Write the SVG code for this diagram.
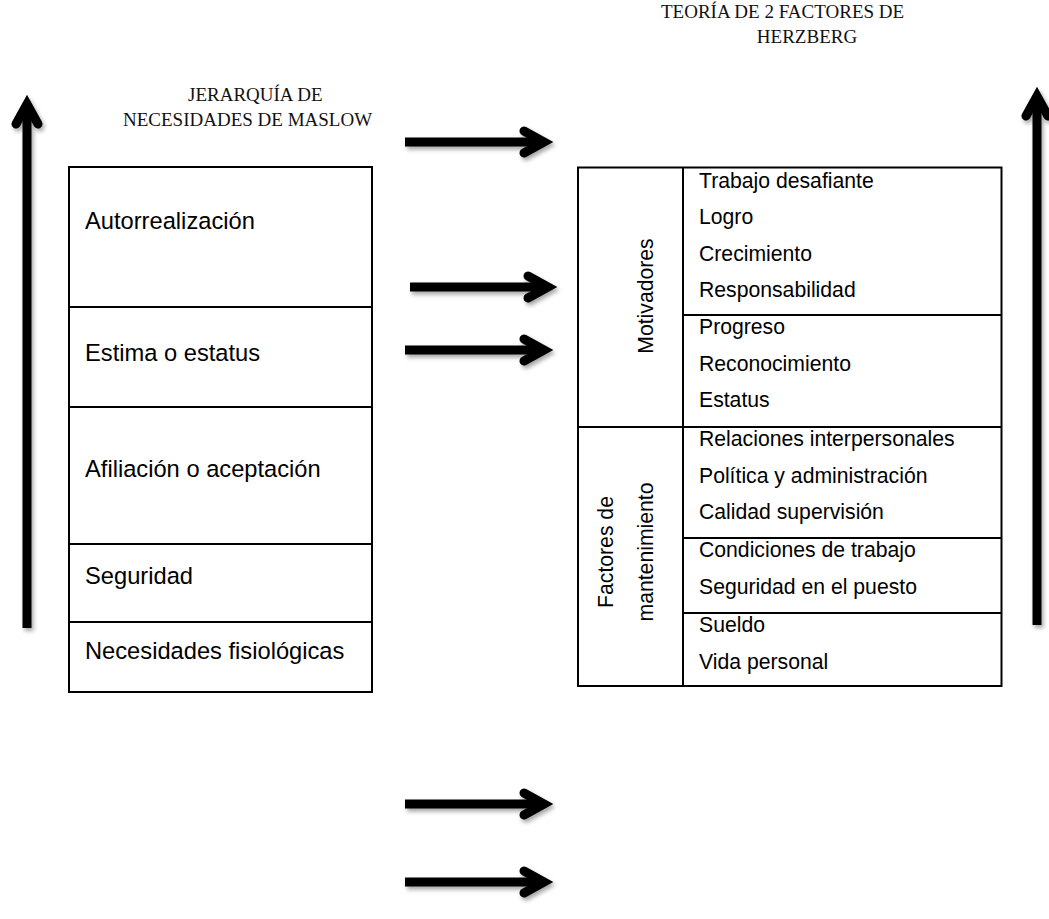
<svg xmlns="http://www.w3.org/2000/svg" width="1049" height="919" viewBox="0 0 1049 919">
<style>
.box{fill:#fff;stroke:#000;stroke-width:2}
.ln{stroke:#000;stroke-width:2;fill:none}
.lt{font-family:"Liberation Sans",Arial,sans-serif;font-size:23.7px;fill:#000}
.rt{font-family:"Liberation Sans",Arial,sans-serif;font-size:21.2px;fill:#000}
.vt{font-family:"Liberation Sans",Arial,sans-serif;font-size:21.2px;fill:#000}
.tt{font-family:"Liberation Serif","Times New Roman",serif;font-size:19px;fill:#111}
.arr{stroke:#000;stroke-width:9;fill:none;stroke-linejoin:miter;stroke-miterlimit:6}
.head{stroke-linecap:round}
</style>
<defs>
<filter id="sh" x="-20%" y="-20%" width="140%" height="140%">
<feDropShadow dx="2" dy="3" stdDeviation="2" flood-color="#000" flood-opacity="0.35"/>
</filter>
</defs>
<g id="title-maslow">
<text class="tt" x="188" y="101">JERARQUÍA DE</text>
<text class="tt" x="123" y="126">NECESIDADES DE MASLOW</text>
</g>
<g id="title-herzberg">
<text class="tt" x="661" y="18">TEORÍA DE 2 FACTORES DE</text>
<text class="tt" x="807" y="43" text-anchor="middle">HERZBERG</text>
</g>
<g id="maslow">
<rect class="box" x="69" y="167" width="303" height="525"/>
<line class="ln" x1="69" y1="307" x2="372" y2="307"/>
<line class="ln" x1="69" y1="407" x2="372" y2="407"/>
<line class="ln" x1="69" y1="544" x2="372" y2="544"/>
<line class="ln" x1="69" y1="622" x2="372" y2="622"/>
<text class="lt" x="85" y="229">Autorrealización</text>
<text class="lt" x="85" y="361">Estima o estatus</text>
<text class="lt" x="85" y="477">Afiliación o aceptación</text>
<text class="lt" x="85" y="584">Seguridad</text>
<text class="lt" x="85" y="659">Necesidades fisiológicas</text>
</g>
<g id="herzberg">
<rect class="box" x="578" y="167.5" width="423.5" height="518.5"/>
<line class="ln" x1="683" y1="167.5" x2="683" y2="686"/>
<line class="ln" x1="683" y1="315" x2="1001.5" y2="315"/>
<line class="ln" x1="578" y1="427" x2="1001.5" y2="427"/>
<line class="ln" x1="683" y1="538" x2="1001.5" y2="538"/>
<line class="ln" x1="683" y1="613" x2="1001.5" y2="613"/>
<text class="vt" transform="translate(653,296) rotate(-90)" text-anchor="middle">Motivadores</text>
<text class="vt" transform="translate(613,552) rotate(-90)" text-anchor="middle">Factores de</text>
<text class="vt" transform="translate(653,552) rotate(-90)" text-anchor="middle">mantenimiento</text>
<text class="rt" x="699" y="188">Trabajo desafiante</text>
<text class="rt" x="699" y="224">Logro</text>
<text class="rt" x="699" y="261">Crecimiento</text>
<text class="rt" x="699" y="297">Responsabilidad</text>
<text class="rt" x="699" y="334">Progreso</text>
<text class="rt" x="699" y="371">Reconocimiento</text>
<text class="rt" x="699" y="407">Estatus</text>
<text class="rt" x="699" y="446">Relaciones interpersonales</text>
<text class="rt" x="699" y="483">Política y administración</text>
<text class="rt" x="699" y="519">Calidad supervisión</text>
<text class="rt" x="699" y="557">Condiciones de trabajo</text>
<text class="rt" x="699" y="594">Seguridad en el puesto</text>
<text class="rt" x="699" y="632">Sueldo</text>
<text class="rt" x="699" y="669">Vida personal</text>
</g>
<g id="connectors" filter="url(#sh)">
<g class="arr">
<line x1="27" y1="628" x2="27" y2="104"/>
<polyline class="head" points="16,124 27,104 38,124"/>
<line x1="1037" y1="625" x2="1037" y2="96"/>
<polyline class="head" points="1026,116 1037,96 1048,116"/>
<line x1="405" y1="142" x2="544" y2="142"/>
<polyline class="head" points="524,131 544,142 524,153"/>
<line x1="410" y1="287" x2="548" y2="287"/>
<polyline class="head" points="528,276 548,287 528,298"/>
<line x1="405" y1="350" x2="544" y2="350"/>
<polyline class="head" points="524,339 544,350 524,361"/>
<line x1="405" y1="804" x2="544" y2="804"/>
<polyline class="head" points="524,793 544,804 524,815"/>
<line x1="405" y1="882" x2="544" y2="882"/>
<polyline class="head" points="524,871 544,882 524,893"/>
</g>
</g>
</svg>
